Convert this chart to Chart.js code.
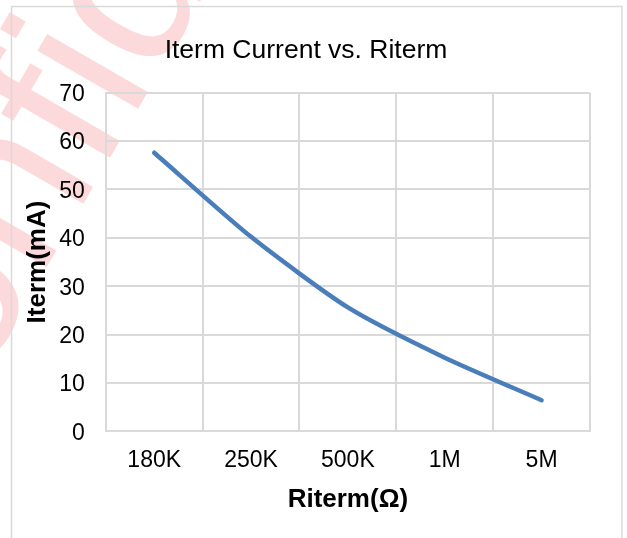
<!DOCTYPE html>
<html>
<head>
<meta charset="utf-8">
<title>Iterm Current vs. Riterm</title>
<script src="https://cdn.jsdelivr.net/npm/chart.js@4.4.0/dist/chart.umd.min.js"></script>
<style>
  html, body { margin: 0; padding: 0; background: #fff; }
  #wrap { width: 627px; height: 538px; position: relative; }
</style>
</head>
<body>
<div id="wrap"><canvas id="itermChart"></canvas></div>
<script>
// ========================================
// Iterm current vs. Riterm
// ========================================

const riterm = ['180K', '250K', '500K', '1M', '5M'];
const itermMa = [57.6, 40.2, 25.6, 15.2, 6.4];
const yTicks = [0, 10, 20, 30, 40, 50, 60, 70];

const FONT = "'Liberation Sans', Arial, sans-serif";
const GRID = '#d9d9d9';

// white page, outer chart frame and the pink watermark behind the plot
const backdrop = {
  id: 'backdrop',
  beforeDraw(chart) {
    const ctx = chart.ctx;
    ctx.save();
    ctx.fillStyle = '#fff';
    ctx.fillRect(0, 0, chart.width, chart.height);

    // watermark
    ctx.font = '220px ' + FONT;
    ctx.fillStyle = 'rgba(235,30,40,0.17)';
    const before = ctx.measureText('Co').width;
    const nW = ctx.measureText('n').width;
    ctx.translate(22, 200);
    ctx.rotate(-60 * Math.PI / 180);
    ctx.textBaseline = 'alphabetic';
    ctx.fillText('Confidential', -(before + nW / 2), 55);
    ctx.restore();

    ctx.save();
    ctx.strokeStyle = GRID;
    ctx.lineWidth = 1.5;
    ctx.strokeRect(11.5, 6.5, 610.5, 600);
    ctx.restore();
  }
};

const ctx = document.getElementById('itermChart');
new Chart(ctx, {
  type: 'line',
  data: {
    labels: riterm,
    datasets: [{
      label: 'Iterm(mA)',
      data: itermMa,
      borderColor: '#4a7ebb',
      borderWidth: 4.5,
      borderCapStyle: 'round',
      borderJoinStyle: 'round',
      tension: 0.22,
      pointRadius: 0,
      fill: false
    }]
  },
  options: {
    responsive: true,
    maintainAspectRatio: false,
    devicePixelRatio: 1,
    animation: false,
    layout: { padding: { top: 22, left: 22, right: 37, bottom: 14 } },
    plugins: {
      legend: { display: false },
      tooltip: { enabled: false },
      title: {
        display: true,
        text: 'Iterm Current vs. Riterm',
        color: '#000',
        font: { family: FONT, size: 26.5, weight: 'normal' },
        padding: { top: 13, bottom: 26 }
      }
    },
    scales: {
      x: {
        offset: true,
        grid: { color: GRID, lineWidth: 2, offset: true, drawTicks: false },
        border: { color: GRID, width: 2 },
        ticks: { color: '#000', font: { family: FONT, size: 23 }, padding: 16, maxRotation: 0 },
        title: {
          display: true,
          text: 'Riterm(Ω)',
          color: '#000',
          font: { family: FONT, size: 26, weight: 'bold' },
          padding: { top: -7, bottom: 9 }
        }
      },
      y: {
        min: yTicks[0],
        max: yTicks[yTicks.length - 1],
        grid: { color: GRID, lineWidth: 2, drawTicks: false },
        border: { color: GRID, width: 2 },
        ticks: {
          color: '#000',
          font: { family: FONT, size: 23 },
          padding: 21,
          labelOffset: 2,
          stepSize: yTicks[1] - yTicks[0]
        },
        title: {
          display: true,
          text: 'Iterm(mA)',
          color: '#000',
          font: { family: FONT, size: 26, weight: 'bold' },
          padding: { top: 0, bottom: -15 }
        }
      }
    }
  },
  plugins: [backdrop]
});
</script>
</body>
</html>
